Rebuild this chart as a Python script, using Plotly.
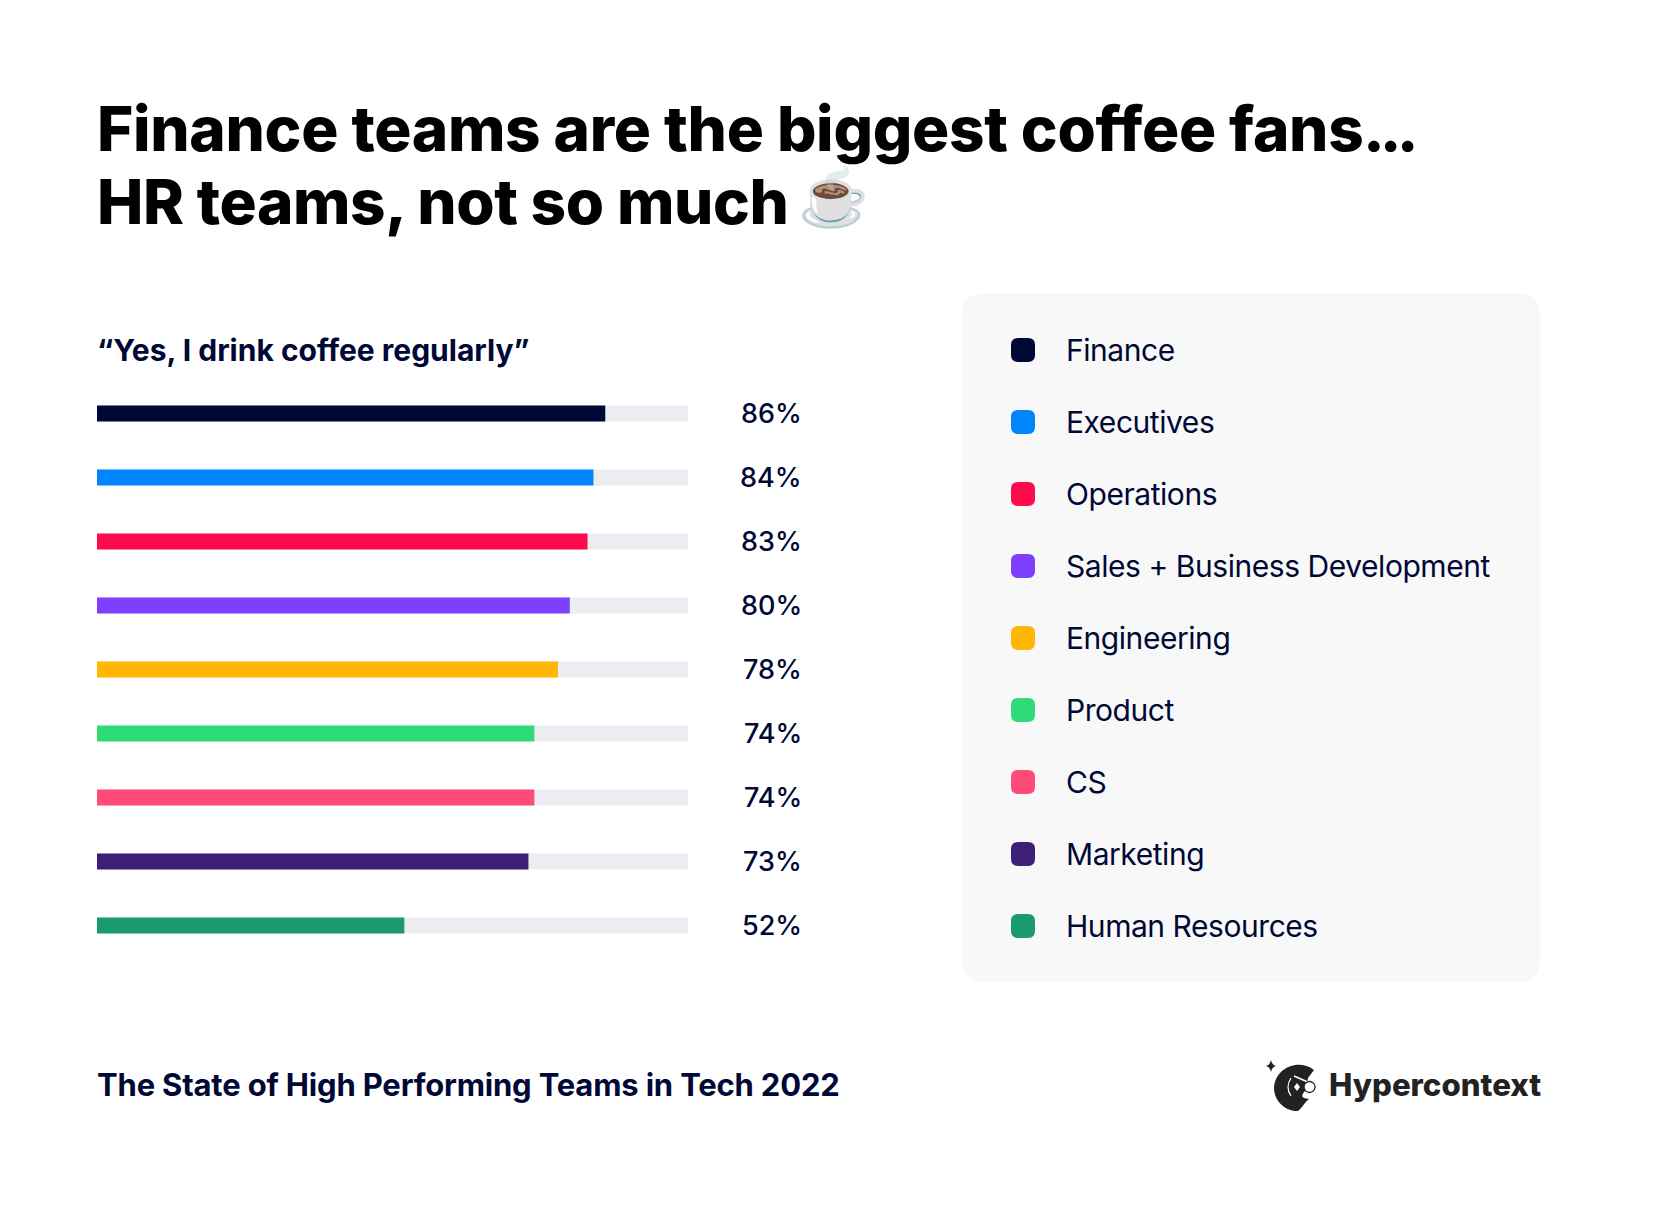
import plotly.graph_objects as go

W = 1664
H = 1205

categories = ["Finance", "Executives", "Operations", "Sales + Business Development",
              "Engineering", "Product", "CS", "Marketing", "Human Resources"]
values = [86, 84, 83, 80, 78, 74, 74, 73, 52]
track_values = [100] * 9
colors = ["#000835", "#0085FF", "#FF0A4B", "#7F3FFF", "#FFB703",
          "#2EDB77", "#FF4B78", "#3D1F78", "#1A9A70"]

title_lines = ["Finance teams are the biggest coffee fans", "...", "HR teams, not so much"]
cup = "☕"
subtitle = "“Yes, I drink coffee regularly”"
footer = "The State of High Performing Teams in Tech 2022"
brand = "Hypercontext"

NAVY = "#000835"
FONT = "Inter"
DARK = "#222222"


def px(x):
    return x / W


def py(y):
    return 1 - y / H


def svg(*cmds):
    # each cmd is a letter and then pixel pairs, turned into paper coords
    out = []
    for c in cmds:
        nums = c[1:]
        pairs = [f"{px(nums[i])} {py(nums[i + 1])}" for i in range(0, len(nums), 2)]
        out.append(c[0] + " " + " ".join(pairs))
    return " ".join(out)


def rounded_rect(x0, y0, x1, y1, r):
    return svg(("M", x0 + r, y0), ("L", x1 - r, y0), ("Q", x1, y0, x1, y0 + r),
               ("L", x1, y1 - r), ("Q", x1, y1, x1 - r, y1),
               ("L", x0 + r, y1), ("Q", x0, y1, x0, y1 - r),
               ("L", x0, y0 + r), ("Q", x0, y0, x0 + r, y0)) + " Z"


def tight(text, spacing):
    return f'<span style="letter-spacing:{spacing}px">{text}</span>'


def label(x, y, text, size, weight=400, color=NAVY, anchor="left"):
    fig.add_annotation(x=px(x), y=py(y), xref="paper", yref="paper", text=text,
                       showarrow=False, xanchor=anchor, yanchor="middle", align=anchor,
                       font=dict(family=FONT, size=size, color=color, weight=weight))


def paper_path(path, fill=None, line=None, width=0):
    fig.add_shape(type="path", path=path, xref="paper", yref="paper",
                  fillcolor=fill, line=dict(color=line, width=width))


fig = go.Figure()

# grey tracks behind, real values on top
fig.add_trace(go.Bar(y=categories, x=track_values, orientation="h", width=0.25,
                     marker=dict(color="#ECEDF1", line_width=0), hoverinfo="skip"))
fig.add_trace(go.Bar(y=categories, x=values, orientation="h", width=0.25,
                     marker=dict(color=colors, line_width=0)))

fig.update_layout(
    width=W, height=H,
    margin=dict(l=0, r=0, t=0, b=0),
    paper_bgcolor="white", plot_bgcolor="white",
    barmode="overlay", showlegend=False,
    xaxis=dict(domain=[px(97), px(688)], range=[0, 100], visible=False),
    yaxis=dict(domain=[py(957.5), py(381.5)], range=[8.5, -0.5], visible=False,
               categoryorder="array", categoryarray=categories),
)

# legend panel
fig.add_shape(type="path", path=rounded_rect(962, 293, 1540, 982, 22), xref="paper", yref="paper",
              fillcolor="#F8F8F8", line_width=0, layer="below")

for i, (cat, val, col) in enumerate(zip(categories, values, colors)):
    fig.add_annotation(x=px(804), y=cat, xref="paper", yref="y", text=f"{val}%", showarrow=False,
                       xanchor="right", font=dict(family=FONT, size=27, color=NAVY, weight=450))
    yc = 350 + i * 72
    paper_path(rounded_rect(1011, yc - 12, 1035, yc + 12, 7), fill=col)
    label(1064, yc, tight(cat, -0.45), 30)

label(94.5, 129, tight(title_lines[0], -0.3), 62, 800, "#000000")
label(1361, 129, tight(title_lines[1], -5), 62, 800, "#000000")
label(94.5, 201.5, tight(title_lines[2], -0.4), 62, 800, "#000000")
label(796, 197, cup, 57, 400, "#000000")
label(94.5, 350, tight(subtitle, 0), 30, 700)
label(94.5, 1084, tight(footer, -0.18), 31, 700)
label(1326.5, 1085, tight(brand, 0), 31.2, 800, DARK)

# hypercontext logo
paper_path(svg(("M", 1271, 1060), ("Q", 1272, 1065, 1276, 1066), ("Q", 1272, 1067, 1271, 1072),
               ("Q", 1270, 1067, 1266, 1066), ("Q", 1270, 1065, 1271, 1060)) + " Z", fill=DARK)
paper_path(svg(("M", 1314, 1070), ("C", 1298, 1058, 1275, 1068, 1274, 1088),
               ("C", 1274, 1102, 1287, 1112, 1298, 1111), ("C", 1302, 1108, 1304, 1103, 1309, 1099),
               ("C", 1303, 1098, 1299, 1097, 1306, 1090), ("L", 1308, 1078)) + " Z", fill=DARK)
paper_path(svg(("M", 1294, 1076), ("L", 1310, 1083)), line="white", width=1.5)
paper_path(svg(("M", 1291, 1078), ("C", 1287, 1084, 1287, 1090, 1291, 1096)), line="white", width=1.2)
paper_path(svg(("M", 1297, 1083), ("L", 1300, 1087), ("L", 1297, 1091), ("L", 1294, 1087)) + " Z", fill="white")
fig.add_shape(type="circle", xref="paper", yref="paper",
              x0=px(1304), x1=px(1315), y0=py(1092.5), y1=py(1081.5),
              fillcolor="white", line=dict(color=DARK, width=1.3))

fig.write_html("out.html", config=dict(displayModeBar=False), post_script="document.body.style.margin='0';")
